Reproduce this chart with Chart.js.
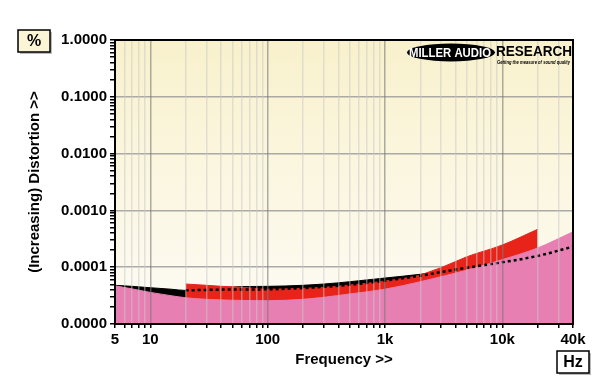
<!DOCTYPE html>
<html>
<head>
<meta charset="utf-8">
<script src="https://cdn.jsdelivr.net/npm/chart.js@4.4.0/dist/chart.umd.min.js"></script>
<style>
  body { margin: 0; background: #fff; }
  #wrap { width: 600px; height: 388px; }
</style>
</head>
<body>
<div id="wrap"><canvas id="chart" width="600" height="388"></canvas></div>
<script>
// Axis tick labels
const xTickValues = [5, 10, 100, 1000, 10000, 40000];
const xTickLabels = ['5', '10', '100', '1k', '10k', '40k'];
const yTickValues = [0.00001, 0.0001, 0.001, 0.01, 0.1, 1];
const yTickLabels = ['0.0000', '0.0001', '0.0010', '0.0100', '0.1000', '1.0000'];

// Pink area (residual floor)
const pinkFreq = [5, 7, 10, 15, 20, 30, 50, 100, 200, 300, 500, 1000, 2000, 3000, 5000, 10000, 20000, 40000];
const pinkVal = [4.7e-5, 4.15e-5, 3.6e-5, 3.15e-5, 2.9e-5, 2.72e-5, 2.62e-5, 2.57e-5, 2.72e-5, 2.95e-5, 3.38e-5, 4.1e-5, 5.55e-5, 6.8e-5, 8.9e-5, 1.36e-4, 2.18e-4, 4.2e-4];

// Black area
const blackFreq = [5, 7, 10, 15, 20, 30, 60, 100, 200, 300, 500, 1000, 2000, 2500];
const blackVal = [4.8e-5, 4.6e-5, 4.35e-5, 4.1e-5, 3.9e-5, 4.15e-5, 4.55e-5, 4.6e-5, 4.8e-5, 5.05e-5, 5.55e-5, 6.45e-5, 7.5e-5, 8.0e-5];

// Red area
const redFreq = [20, 30, 40, 60, 100, 200, 300, 500, 1000, 2000, 2500, 3000, 5000, 10000, 20000];
const redVal = [5.06e-5, 4.8e-5, 4.61e-5, 4.43e-5, 4.1e-5, 4.25e-5, 4.43e-5, 4.86e-5, 5.71e-5, 7.3e-5, 8.6e-5, 9.8e-5, 1.53e-4, 2.46e-4, 4.65e-4];

// Dotted line
const dotFreq = [20, 50, 100, 200, 500, 1000, 2000, 3000, 5000, 10000, 20000, 40000];
const dotVal = [3.92e-5, 4.05e-5, 4.08e-5, 4.3e-5, 4.9e-5, 5.8e-5, 7.1e-5, 8.2e-5, 9.8e-5, 1.22e-4, 1.58e-4, 2.3e-4];

const FONT = '"Liberation Sans", Arial, sans-serif';

function pts(xs, ys) {
    return xs.map((x, i) => ({ x: x, y: ys[i] }));
}

// 1..9 x every decade between min and max
function logTicks(min, max) {
    const out = [];
    for (let e = Math.floor(Math.log10(min)); e <= Math.ceil(Math.log10(max)); e++) {
        for (let m = 1; m <= 9; m++) {
            const v = +(m * Math.pow(10, e)).toPrecision(4);
            if (v >= min * 0.999 && v <= max * 1.001) out.push(v);
        }
    }
    return out;
}

function findIdx(list, v) {
    return list.findIndex(t => Math.abs(t - v) / t < 1e-6);
}

function isDecade(v) {
    const l = Math.log10(v);
    return Math.abs(l - Math.round(l)) < 1e-6;
}

const decor = {
    id: 'decor',
    beforeDraw(chart) {
        const { ctx, chartArea: a } = chart;
        const g = ctx.createLinearGradient(0, a.top, 0, a.bottom);
        g.addColorStop(0, '#f9f1cc');
        g.addColorStop(1, '#fdfcf6');
        ctx.save();
        ctx.fillStyle = g;
        ctx.fillRect(a.left, a.top, a.right - a.left, a.bottom - a.top);
        ctx.restore();
    },
    afterDraw(chart) {
        const { ctx, chartArea: a } = chart;
        ctx.save();

        // plot frame
        ctx.strokeStyle = '#000';
        ctx.lineWidth = 2;
        ctx.strokeRect(a.left, a.top, a.right - a.left, a.bottom - a.top);

        // axis titles
        ctx.fillStyle = '#000';
        ctx.font = 'bold 15px ' + FONT;
        ctx.textAlign = 'center';
        ctx.textBaseline = 'middle';
        ctx.fillText('Frequency >>', (a.left + a.right) / 2, 360);
        ctx.save();
        ctx.translate(35, (a.top + a.bottom) / 2);
        ctx.rotate(-Math.PI / 2);
        ctx.fillText('(Increasing) Distortion >>', 0, 0);
        ctx.restore();

        // unit boxes
        function box(x, y, w, h, fill, label) {
            ctx.fillStyle = '#bbb';
            ctx.fillRect(x + 2, y + 2, w, h);
            ctx.fillStyle = fill;
            ctx.fillRect(x, y, w, h);
            ctx.strokeStyle = '#000';
            ctx.lineWidth = 1.5;
            ctx.strokeRect(x, y, w, h);
            ctx.fillStyle = '#000';
            ctx.font = 'bold 16px ' + FONT;
            ctx.fillText(label, x + w / 2, y + h / 2 + 1);
        }
        box(18, 30, 32, 22, '#fbf5d6', '%');
        box(557, 351, 32, 22, '#ffffff', 'Hz');

        // logo
        ctx.fillStyle = '#000';
        ctx.beginPath();
        ctx.ellipse(451, 52.5, 44, 9, 0, 0, Math.PI * 2);
        ctx.fill();
        ctx.fillStyle = '#fff';
        ctx.font = 'bold 13px ' + FONT;
        ctx.fillText('MILLER AUDIO', 450, 53, 82);
        ctx.fillStyle = '#000';
        ctx.textAlign = 'left';
        ctx.font = 'bold 14px ' + FONT;
        ctx.fillText('RESEARCH', 496, 52, 76);
        ctx.font = 'italic bold 6px ' + FONT;
        ctx.fillText('Getting the measure of sound quality', 497, 62, 73);

        ctx.restore();
    }
};

const area = (data, color, order) => ({
    data: data,
    order: order,
    borderColor: color,
    backgroundColor: color,
    borderWidth: 1,
    pointRadius: 0,
    fill: 'start',
    cubicInterpolationMode: 'monotone'
});

new Chart(document.getElementById('chart'), {
    type: 'line',
    data: {
        datasets: [
            {
                data: pts(dotFreq, dotVal),
                order: 0,
                borderColor: '#000',
                borderWidth: 2.5,
                borderDash: [3, 3],
                pointRadius: 0,
                fill: false,
                cubicInterpolationMode: 'monotone'
            },
            area(pts(pinkFreq, pinkVal), '#e87fb3', 1),
            area(pts(redFreq, redVal), '#e8241a', 2),
            area(pts(blackFreq, blackVal), '#000000', 3)
        ]
    },
    options: {
        responsive: false,
        animation: false,
        layout: { padding: { top: 40, right: 27, left: 0, bottom: 0 } },
        plugins: { legend: { display: false }, tooltip: { enabled: false } },
        scales: {
            x: {
                type: 'logarithmic',
                min: 5,
                max: 40000,
                afterBuildTicks: s => { s.ticks = logTicks(5, 40000).map(v => ({ value: v })); },
                afterFit: s => { s.height = 64; },
                border: { display: false },
                grid: {
                    z: 1,
                    lineWidth: 1.5,
                    color: c => {
                        const v = c.tick ? c.tick.value : 0;
                        if (v === 5 || v === 40000) return 'rgba(0,0,0,0)';
                        return isDecade(v) ? 'rgba(120,120,120,0.6)' : 'rgba(200,200,200,0.5)';
                    },
                    tickColor: '#000',
                    tickLength: 4
                },
                ticks: {
                    autoSkip: false,
                    maxRotation: 0,
                    padding: 3,
                    color: '#000',
                    font: { family: FONT, size: 15, weight: 'bold' },
                    callback: v => {
                        const i = findIdx(xTickValues, v);
                        return i >= 0 ? xTickLabels[i] : '';
                    }
                }
            },
            y: {
                type: 'logarithmic',
                min: 0.00001,
                max: 1,
                afterBuildTicks: s => { s.ticks = logTicks(0.00001, 1).map(v => ({ value: v })); },
                afterFit: s => { s.width = 115; },
                border: { display: false },
                grid: {
                    color: c => (c.tick && isDecade(c.tick.value)) ? 'rgba(150,150,150,0.8)' : 'rgba(0,0,0,0)',
                    lineWidth: 1.5,
                    tickColor: '#000',
                    tickLength: 5
                },
                ticks: {
                    autoSkip: false,
                    padding: 3,
                    color: '#000',
                    font: { family: FONT, size: 15, weight: 'bold' },
                    callback: v => {
                        const i = findIdx(yTickValues, v);
                        return i >= 0 ? yTickLabels[i] : '';
                    }
                }
            }
        }
    },
    plugins: [decor]
});
</script>
</body>
</html>
